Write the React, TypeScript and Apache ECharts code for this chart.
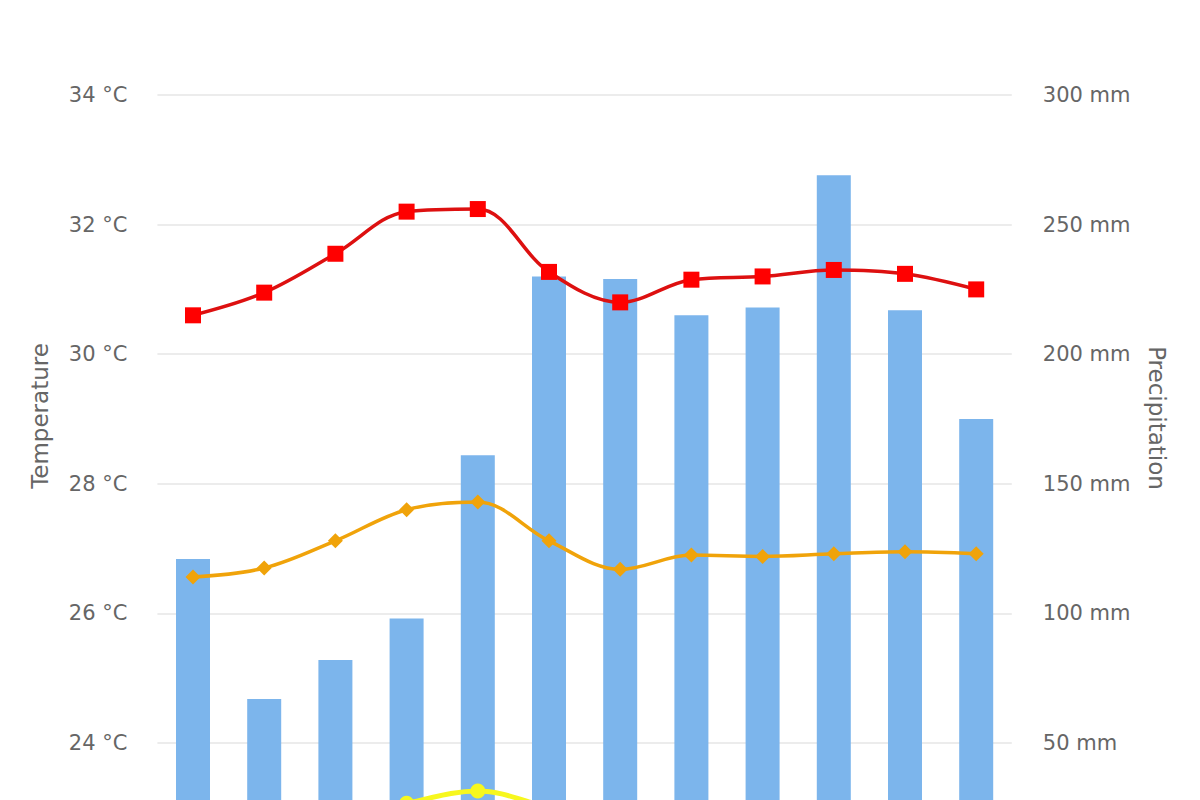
import React, { useEffect, useRef } from "react";
import * as echarts from "echarts";

const months = ["Jan", "Feb", "Mar", "Apr", "May", "Jun", "Jul", "Aug", "Sep", "Oct", "Nov", "Dec"];
const precipitation = [121, 67, 82, 98, 161, 230, 229, 215, 218, 269, 217, 175];
const maxTemp = [30.6, 30.95, 31.55, 32.2, 32.24, 31.27, 30.8, 31.15, 31.2, 31.3, 31.24, 31.0];
const meanTemp = [26.56, 26.7, 27.12, 27.6, 27.72, 27.12, 26.68, 26.9, 26.88, 26.92, 26.95, 26.92];
const minTemp = [22.5, 22.6, 22.8, 23.07, 23.26, 23.0, 22.7, 22.7, 22.7, 22.7, 22.8, 22.7];
const tempTicks = { min: 22, max: 34, interval: 2 };
const precipTicks = { min: 0, max: 300, interval: 50 };

const FONT = "'DejaVu Sans', sans-serif";
const LABEL = "#666666";
const CHART_H = 900;

export default function App() {
  const ref = useRef<HTMLDivElement>(null);
  useEffect(() => {
    if (!ref.current) return;
    const chart = echarts.init(ref.current, null, { renderer: "svg" });
    chart.setOption({
      animation: false,
      backgroundColor: "#ffffff",
      grid: { left: 157.4, right: 188.2, top: 95, bottom: CHART_H - 872.6, containLabel: false },
      xAxis: {
        type: "category",
        data: months,
        axisLine: { show: false },
        axisTick: { show: false },
        axisLabel: { show: false },
      },
      yAxis: [
        {
          type: "value",
          ...tempTicks,
          position: "left",
          axisLine: { show: false },
          axisTick: { show: false },
          splitLine: { lineStyle: { color: "#e6e6e6", width: 1.5 } },
          axisLabel: {
            formatter: "{value} °C",
            color: LABEL,
            fontFamily: FONT,
            fontSize: 21,
            margin: 30,
            showMinLabel: false,
          },
        },
        {
          type: "value",
          ...precipTicks,
          position: "right",
          axisLine: { show: false },
          axisTick: { show: false },
          splitLine: { show: false },
          axisLabel: {
            formatter: "{value} mm",
            color: LABEL,
            fontFamily: FONT,
            fontSize: 21,
            margin: 31,
            showMinLabel: false,
          },
        },
      ],
      graphic: [
        {
          type: "text",
          x: 40,
          y: 416,
          rotation: Math.PI / 2,
          style: {
            text: "Temperature",
            fill: LABEL,
            font: `23px ${FONT}`,
            align: "center",
            verticalAlign: "middle",
          },
        },
        {
          type: "text",
          x: 1157,
          y: 418,
          rotation: -Math.PI / 2,
          style: {
            text: "Precipitation",
            fill: LABEL,
            font: `23px ${FONT}`,
            align: "center",
            verticalAlign: "middle",
          },
        },
      ],
      series: [
        {
          name: "Precipitation",
          type: "bar",
          yAxisIndex: 1,
          data: precipitation,
          barWidth: 34,
          itemStyle: { color: "#7cb5ec" },
          z: 1,
        },
        {
          name: "Min",
          type: "line",
          yAxisIndex: 0,
          data: minTemp,
          smooth: 0.35,
          symbol: "circle",
          symbolSize: 15,
          lineStyle: { color: "#f7f71e", width: 5 },
          itemStyle: { color: "#f7f71e" },
          z: 3,
        },
        {
          name: "Mean",
          type: "line",
          yAxisIndex: 0,
          data: meanTemp,
          smooth: 0.35,
          symbol: "diamond",
          symbolSize: 15,
          lineStyle: { color: "#f0a30a", width: 3.5 },
          itemStyle: { color: "#f0a30a" },
          z: 4,
        },
        {
          name: "Max",
          type: "line",
          yAxisIndex: 0,
          data: maxTemp,
          smooth: 0.35,
          symbol: "rect",
          symbolSize: 16,
          lineStyle: { color: "#dd1010", width: 3.5 },
          itemStyle: { color: "#ff0000" },
          z: 5,
        },
      ],
    });
    return () => chart.dispose();
  }, []);
  return (
    <div
      style={{
        position: "absolute",
        left: 0,
        top: 0,
        width: 1200,
        height: 800,
        overflow: "hidden",
        background: "#fff",
      }}
    >
      <div ref={ref} style={{ width: 1200, height: CHART_H }} />
    </div>
  );
}
